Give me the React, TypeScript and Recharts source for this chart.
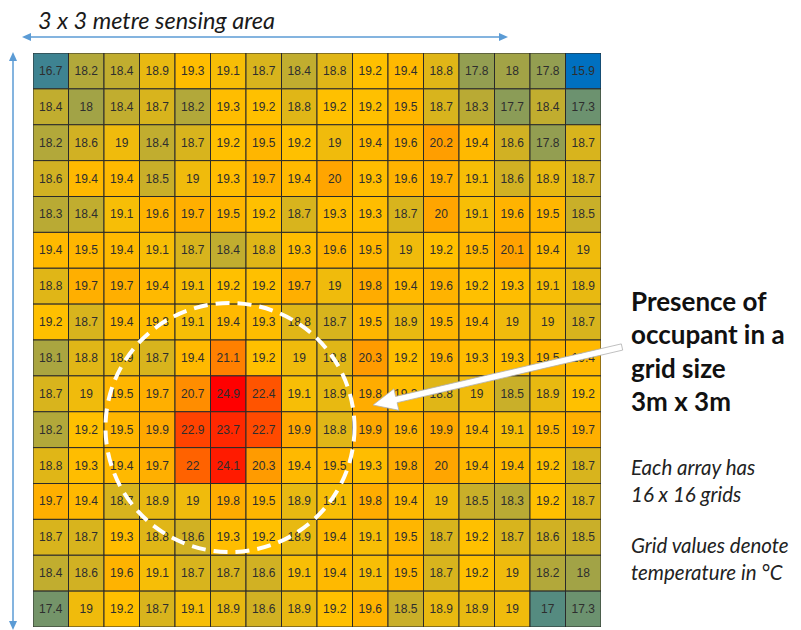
import React from "react";
import { ScatterChart, Scatter, XAxis, YAxis } from "recharts";

// 16 x 16 temperature grid (°C), rows top to bottom
const row01 = [16.7, 18.2, 18.4, 18.9, 19.3, 19.1, 18.7, 18.4, 18.8, 19.2, 19.4, 18.8, 17.8, 18, 17.8, 15.9];
const row02 = [18.4, 18, 18.4, 18.7, 18.2, 19.3, 19.2, 18.8, 19.2, 19.2, 19.5, 18.7, 18.3, 17.7, 18.4, 17.3];
const row03 = [18.2, 18.6, 19, 18.4, 18.7, 19.2, 19.5, 19.2, 19, 19.4, 19.6, 20.2, 19.4, 18.6, 17.8, 18.7];
const row04 = [18.6, 19.4, 19.4, 18.5, 19, 19.3, 19.7, 19.4, 20, 19.3, 19.6, 19.7, 19.1, 18.6, 18.9, 18.7];
const row05 = [18.3, 18.4, 19.1, 19.6, 19.7, 19.5, 19.2, 18.7, 19.3, 19.3, 18.7, 20, 19.1, 19.6, 19.5, 18.5];
const row06 = [19.4, 19.5, 19.4, 19.1, 18.7, 18.4, 18.8, 19.3, 19.6, 19.5, 19, 19.2, 19.5, 20.1, 19.4, 19];
const row07 = [18.8, 19.7, 19.7, 19.4, 19.1, 19.2, 19.2, 19.7, 19, 19.8, 19.4, 19.6, 19.2, 19.3, 19.1, 18.9];
const row08 = [19.2, 18.7, 19.4, 19.3, 19.1, 19.4, 19.3, 18.8, 18.7, 19.5, 18.9, 19.5, 19.4, 19, 19, 18.7];
const row09 = [18.1, 18.8, 18.9, 18.7, 19.4, 21.1, 19.2, 19, 18.8, 20.3, 19.2, 19.6, 19.3, 19.3, 19.5, 19.4];
const row10 = [18.7, 19, 19.5, 19.7, 20.7, 24.9, 22.4, 19.1, 18.9, 19.8, 19.3, 18.8, 19, 18.5, 18.9, 19.2];
const row11 = [18.2, 19.2, 19.5, 19.9, 22.9, 23.7, 22.7, 19.9, 18.8, 19.9, 19.6, 19.9, 19.4, 19.1, 19.5, 19.7];
const row12 = [18.8, 19.3, 19.4, 19.7, 22, 24.1, 20.3, 19.4, 19.5, 19.3, 19.8, 20, 19.4, 19.4, 19.2, 18.7];
const row13 = [19.7, 19.4, 18.7, 18.9, 19, 19.8, 19.5, 18.9, 19.1, 19.8, 19.4, 19, 18.5, 18.3, 19.2, 18.7];
const row14 = [18.7, 18.7, 19.3, 18.8, 18.6, 19.3, 19.2, 18.9, 19.4, 19.1, 19.5, 18.7, 19.2, 18.7, 18.6, 18.5];
const row15 = [18.4, 18.6, 19.6, 19.1, 18.7, 18.7, 18.6, 19.1, 19.4, 19.1, 19.5, 18.7, 19.2, 19, 18.2, 18];
const row16 = [17.4, 19, 19.2, 18.7, 19.1, 18.9, 18.6, 18.9, 19.2, 19.6, 18.5, 18.9, 18.9, 19, 17, 17.3];

const rows = [row01, row02, row03, row04, row05, row06, row07, row08, row09, row10, row11, row12, row13, row14, row15, row16];

const titleText = "3 x 3 metre sensing area";
const calloutLines = ["Presence of", "occupant in a", "grid size", "3m x 3m"];
const noteLines1 = ["Each array has", "16 x 16 grids"];
const noteLines2 = ["Grid values denote", "temperature in °C"];

const N = 16;
const W = 801;
const H = 630;
const M = { top: 53, left: 33, right: 200, bottom: 3 };
const CELL_W = (W - M.left - M.right) / N;
const CELL_H = (H - M.top - M.bottom) / N;

const data = rows.flatMap((r, ri) => r.map((v, ci) => ({ x: ci + 0.5, y: ri + 0.5, v })));

const allVals = rows.flat();
const vMin = Math.min(...allVals);
const vMax = Math.max(...allVals);
const vMid = 19.2;

const LOW = [0, 112, 192];
const MID = [255, 192, 0];
const HIGH = [255, 0, 0];

function lerp(a: number[], b: number[], t: number) {
  return a.map((x, i) => Math.round(x + (b[i] - x) * t));
}
function colorFor(v: number) {
  let c;
  if (v <= vMid) c = lerp(LOW, MID, (v - vMin) / (vMid - vMin));
  else c = lerp(MID, HIGH, (v - vMid) / (vMax - vMid));
  return `rgb(${c[0]},${c[1]},${c[2]})`;
}

const CellShape = (props: any) => {
  const { cx, cy, payload } = props;
  if (cx == null || cy == null) return null;
  return (
    <g>
      <rect
        x={cx - CELL_W / 2}
        y={cy - CELL_H / 2}
        width={CELL_W}
        height={CELL_H}
        fill={colorFor(payload.v)}
        stroke="#2a2a2a"
        strokeWidth={1}
      />
      <text
        x={cx}
        y={cy + 4}
        textAnchor="middle"
        fontFamily="'Liberation Sans', Arial, sans-serif"
        fontSize={12}
        fill="#2e2e2e"
      >
        {String(payload.v)}
      </text>
    </g>
  );
};

function WhiteArrow({ x1, y1, x2, y2 }: { x1: number; y1: number; x2: number; y2: number }) {
  const dx = x2 - x1;
  const dy = y2 - y1;
  const len = Math.hypot(dx, dy);
  const ux = dx / len;
  const uy = dy / len;
  const nx = -uy;
  const ny = ux;
  const headL = 24;
  const headW = 11;
  const sw = 3.2;
  const bx = x2 - ux * headL;
  const by = y2 - uy * headL;
  const pts = [
    [x1 + nx * sw, y1 + ny * sw],
    [bx + nx * sw, by + ny * sw],
    [bx + nx * headW, by + ny * headW],
    [x2, y2],
    [bx - nx * headW, by - ny * headW],
    [bx - nx * sw, by - ny * sw],
    [x1 - nx * sw, y1 - ny * sw],
  ]
    .map((p) => `${p[0].toFixed(1)},${p[1].toFixed(1)}`)
    .join(" ");
  return <polygon points={pts} fill="#ffffff" stroke="#b0b0b0" strokeWidth={0.8} strokeLinejoin="round" />;
}

const BLUE = "#5b9bd5";

export default function App() {
  return (
    <div style={{ position: "absolute", left: 0, top: 0, width: W, height: H, background: "#fff" }}>
      <ScatterChart width={W} height={H} margin={M}>
        <XAxis type="number" dataKey="x" domain={[0, N]} hide allowDataOverflow />
        <YAxis type="number" dataKey="y" domain={[0, N]} reversed hide allowDataOverflow />
        <Scatter data={data} shape={CellShape} isAnimationActive={false} />
      </ScatterChart>
      <svg
        width={W}
        height={H}
        style={{ position: "absolute", left: 0, top: 0, pointerEvents: "none" }}
      >
        <text
          x={38}
          y={29}
          fontFamily="Lato, 'Open Sans', sans-serif"
          fontStyle="italic"
          fontSize={23.5}
          fill="#1a1a1a"
        >
          {titleText}
        </text>
        {/* horizontal double arrow */}
        <line x1={30} y1={37} x2={500} y2={37} stroke={BLUE} strokeWidth={1.5} />
        <polygon points="22,37 31,33 31,41" fill={BLUE} />
        <polygon points="508,37 499,33 499,41" fill={BLUE} />
        {/* vertical double arrow */}
        <line x1={13} y1={60} x2={13} y2={622} stroke={BLUE} strokeWidth={1.5} />
        <polygon points="13,52 9,61 17,61" fill={BLUE} />
        <polygon points="13,630 9,621 17,621" fill={BLUE} />
        {/* dashed circle */}
        <circle
          cx={230}
          cy={427.5}
          r={124.5}
          fill="none"
          stroke="#ffffff"
          strokeWidth={4}
          strokeDasharray="14 8"
        />
        <WhiteArrow x1={622} y1={347} x2={373} y2={405} />
        {calloutLines.map((t, i) => (
          <text
            key={t}
            x={631}
            y={311 + i * 33.3}
            fontFamily="Lato, 'Open Sans', sans-serif"
            fontWeight="bold"
            fontSize={26}
            fill="#111"
          >
            {t}
          </text>
        ))}
        {noteLines1.map((t, i) => (
          <text
            key={t}
            x={631}
            y={475 + i * 27}
            fontFamily="Lato, 'Open Sans', sans-serif"
            fontStyle="italic"
            fontSize={20.5}
            fill="#222"
          >
            {t}
          </text>
        ))}
        {noteLines2.map((t, i) => (
          <text
            key={t}
            x={631}
            y={553 + i * 27}
            fontFamily="Lato, 'Open Sans', sans-serif"
            fontStyle="italic"
            fontSize={20.5}
            fill="#222"
          >
            {t}
          </text>
        ))}
      </svg>
    </div>
  );
}
